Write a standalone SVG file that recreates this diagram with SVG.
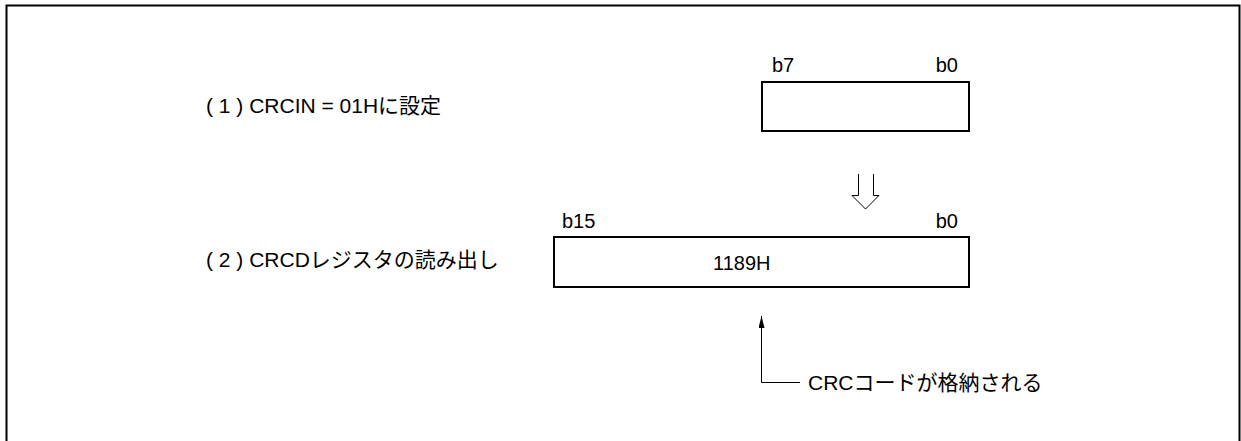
<svg xmlns="http://www.w3.org/2000/svg" width="1241" height="441" viewBox="0 0 1241 441">
<style>
text{font-family:"Liberation Sans","Noto Sans CJK JP",sans-serif;font-size:20px;fill:#000}
.lg{font-size:21px}
.box{fill:#fff;stroke:#000;stroke-width:2}
.ln{fill:none;stroke:#000;stroke-width:1}
</style>
<defs>
<marker id="ah" markerWidth="12" markerHeight="6" refX="12" refY="3" orient="auto" markerUnits="userSpaceOnUse" viewBox="0 0 12 6">
<path d="M0,0 L12,3 L0,6 Z" fill="#000"/>
</marker>
</defs>
<rect width="1241" height="441" fill="#fff"/>
<path d="M6.5,460 V5.5 H1239.5 V460" fill="none" stroke="#000" stroke-width="2"/>
<g id="label1"><text class="lg" x="206" y="113">( 1 ) CRCIN =  01Hに設定</text></g>
<g id="label2"><text class="lg" x="206" y="267">( 2 ) CRCDレジスタの読み出し</text></g>
<g id="reg8">
<rect class="box" x="762" y="82" width="207" height="49"/>
<text x="772" y="72">b7</text>
<text x="958" y="72" text-anchor="end">b0</text>
</g>
<g id="reg16">
<rect class="box" x="554" y="237" width="415" height="50"/>
<text x="562" y="228">b15</text>
<text x="958" y="228" text-anchor="end">b0</text>
<text x="713" y="270">1189H</text>
</g>
<g id="note"><text class="lg" x="808" y="390">CRCコードが格納される</text></g>
<g id="connectors">
<path d="M858.5,174 V195.5 H852 L865.5,209 L879,195.5 H873.5 V174" fill="#fff" stroke="#000" stroke-width="1"/>
<path class="ln" d="M800,382.5 H761.5 V316" marker-end="url(#ah)"/>
</g>
</svg>
